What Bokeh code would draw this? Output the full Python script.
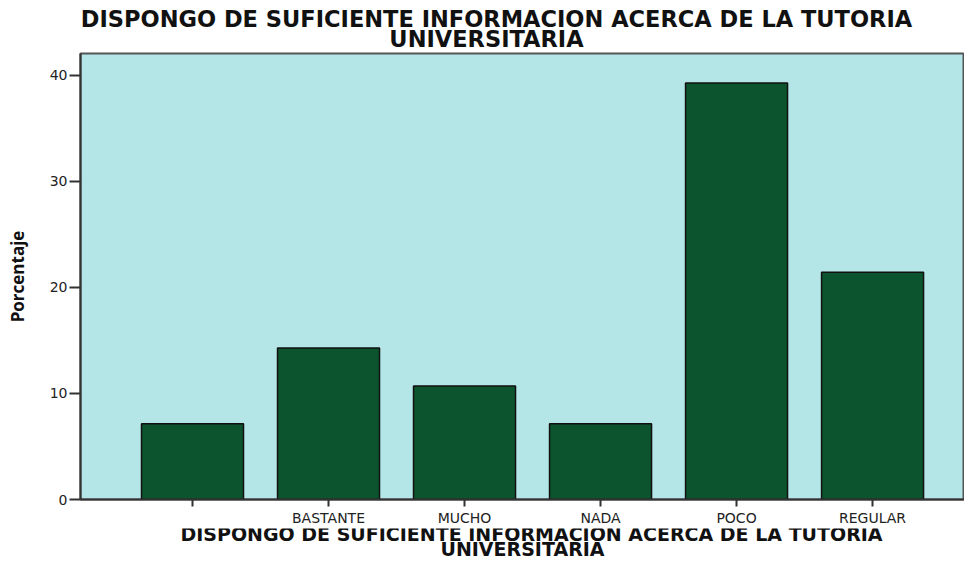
from bokeh.plotting import figure
from bokeh.models import Range1d, FixedTicker
from bokeh.layouts import column
from bokeh.core.properties import value
from bokeh.embed import file_html
from bokeh.resources import INLINE

categories = [" ", "BASTANTE", "MUCHO", "NADA", "POCO", "REGULAR"]
percent = [7.14, 14.29, 10.71, 7.14, 39.29, 21.43]
y_ticks = [0, 10, 20, 30, 40]
title_lines = ["DISPONGO DE SUFICIENTE INFORMACION ACERCA DE LA TUTORIA", "UNIVERSITARIA"]
y_label = "Porcentaje"

W = 964
LEFT = 80
xpos = [i + 0.5 for i in range(len(categories))]


def text_strip(height, xs, ys, size):
    # a plain strip whose frame coordinates equal page pixels (x) / pixels from its bottom (y)
    f = figure(width=W, height=height, output_backend="svg", toolbar_location=None,
               x_range=Range1d(LEFT, W), y_range=Range1d(0, height),
               x_axis_type=None, y_axis_type=None,
               min_border_left=LEFT, min_border_right=0, min_border_top=0, min_border_bottom=0)
    f.title = None
    f.outline_line_color = None
    f.background_fill_color = "white"
    f.border_fill_color = "white"
    f.xgrid.visible = False
    f.ygrid.visible = False
    f.text(x=xs, y=ys, text=title_lines, text_align="center", text_baseline="alphabetic",
           text_font=value("DejaVu Sans"), text_font_style="bold",
           text_font_size=value(size), text_color="#111111")
    return f


# title strip above the chart
top = text_strip(52, [496, 486], [34, 14], "22.5px")

# main chart
p = figure(width=W, height=476, output_backend="svg", toolbar_location=None,
           x_range=Range1d(-0.3235, 6.176), y_range=Range1d(0, 42.07),
           min_border_left=LEFT, min_border_right=0, min_border_top=1, min_border_bottom=28)
p.title = None

p.background_fill_color = "#b4e6e8"
p.border_fill_color = "white"
p.outline_line_color = "#555555"
p.outline_line_width = 2

p.vbar(x=xpos, top=percent, width=0.75, bottom=0,
       fill_color="#0b542e", line_color="#111111", line_width=1.5)

p.xgrid.visible = False
p.ygrid.visible = False

xa = p.xaxis[0]
xa.ticker = FixedTicker(ticks=xpos)
xa.major_label_overrides = {x: c for x, c in zip(xpos, categories)}
xa.major_label_text_font = "DejaVu Sans"
xa.major_label_text_font_size = "14px"
xa.major_label_text_color = "#222222"
xa.major_tick_out = 7
xa.major_tick_in = 0
xa.minor_tick_out = 0
xa.minor_tick_in = 0
xa.major_label_standoff = 3
xa.axis_line_color = "#333333"
xa.axis_line_width = 2
xa.major_tick_line_color = "#333333"
xa.major_tick_line_width = 2

ya = p.yaxis[0]
ya.ticker = FixedTicker(ticks=y_ticks)
ya.major_label_text_font = "DejaVu Sans"
ya.major_label_text_font_size = "14px"
ya.major_label_text_color = "#222222"
ya.major_tick_out = 11
ya.major_tick_in = 0
ya.minor_tick_out = 0
ya.minor_tick_in = 0
ya.major_label_standoff = 2
ya.axis_line_color = "#333333"
ya.axis_line_width = 2
ya.major_tick_line_color = "#333333"
ya.major_tick_line_width = 2
ya.axis_label = y_label
ya.axis_label_text_font = "Open Sans"
ya.axis_label_text_font_style = "bold"
ya.axis_label_text_font_size = "17px"
ya.axis_label_standoff = 18
ya.axis_label_text_color = "#111111"

# x-axis title strip below the chart
bottom = text_strip(33, [531, 522], [28, 13], "19px")

layout = column(top, p, bottom, spacing=0)
open("out.html", "w").write(file_html(layout, INLINE))
